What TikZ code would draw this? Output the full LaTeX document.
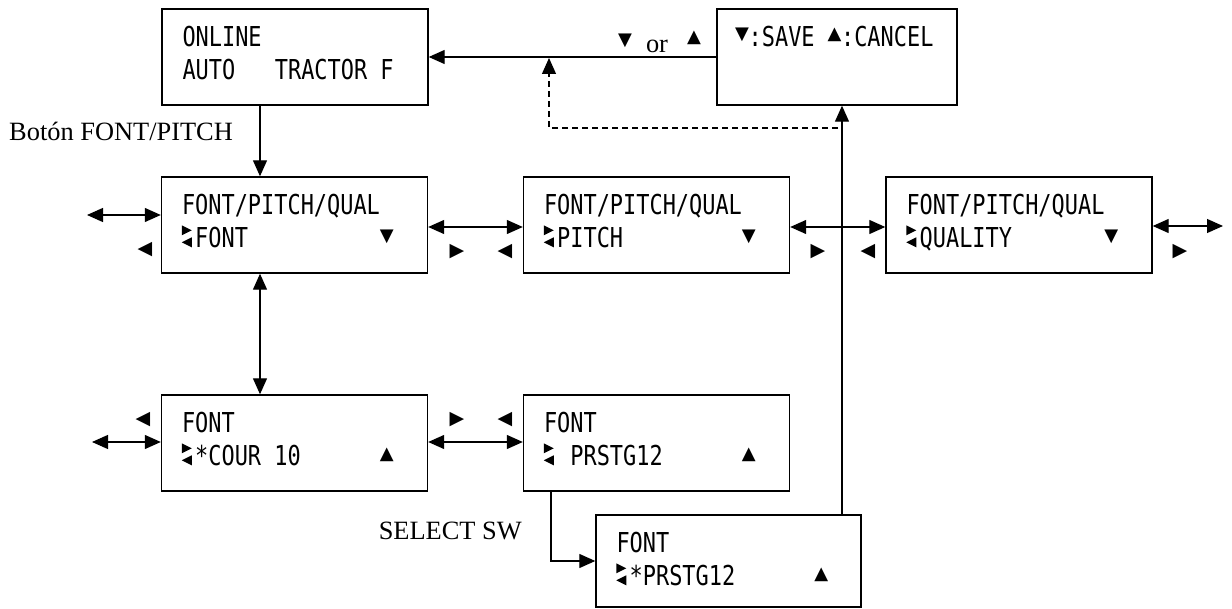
\documentclass[tikz,border=0pt]{standalone}
\usepackage{fontspec}
\setmainfont{Liberation Serif}
\newfontfamily\lcd[FakeStretch=0.8]{DejaVu Sans Mono}
\newfontfamily\sym{DejaVu Sans}
\usetikzlibrary{arrows.meta}
\newlength\cw \setlength\cw{13.2pt}
\newcommand\keysym[1]{\makebox[\cw]{\raisebox{7pt}{\sym\fontsize{18}{18}\selectfont #1}}}
\begin{document}
\begin{tikzpicture}[x=1pt,y=-1pt,
  box/.style={draw, line width=1.4pt, inner sep=0pt, minimum width=266pt, minimum height=96pt},
  lcdtxt/.style={anchor=base west, inner sep=0pt, font=\lcd\fontsize{27.4}{27.4}\selectfont},
  lbl/.style={inner sep=0pt, font=\fontsize{26.4}{26.4}\selectfont},
  key/.style={inner sep=0pt, font=\sym\fontsize{19}{19}\selectfont},
  inkey/.style={inner sep=0pt, font=\sym\fontsize{18}{18}\selectfont},
  conn/.style={line width=1.2pt},
  arr/.style={conn, -{Triangle[length=16pt,width=14pt]}},
  darr/.style={conn, {Triangle[length=16pt,width=14pt]}-{Triangle[length=16pt,width=14pt]}},
  cursor/.pic={
    \fill (0,-22) -- (0,-12) -- (10,-17) -- cycle;
    \fill (10,-10) -- (10,0) -- (0,-5) -- cycle;
  }
]
\useasboundingbox (0,0) rectangle (1232,609);

% boxes
\node[box] (A) at (295,57) {};
\node[box, minimum width=240pt] (B) at (837,57) {};
\node[box] (C) at (294.5,225) {};
\node[box] (D) at (656.5,225) {};
\node[box] (E) at (1019,225) {};
\node[box] (F) at (294.5,443) {};
\node[box] (G) at (656.5,443) {};
\node[box, minimum width=265pt, minimum height=92pt] (H) at (728.5,561) {};

% box texts
\node[lcdtxt] (A1) at ([xshift=21pt,yshift=-38pt]A.north west) {ONLINE};
\node[lcdtxt] (A2) at ([xshift=21pt,yshift=-71pt]A.north west) {AUTO\ \ \ TRACTOR F};
\node[lcdtxt] (B1) at ([xshift=19pt,yshift=-38pt]B.north west) {\keysym{▼}:SAVE \keysym{▲}:CANCEL};

\node[lcdtxt] (C1) at ([xshift=21pt,yshift=-38pt]C.north west) {FONT/PITCH/QUAL};
\node[lcdtxt] (C2) at ([xshift=21pt,yshift=-71pt]C.north west) {\hspace*{\cw}FONT};
\node[lcdtxt] (D1) at ([xshift=21pt,yshift=-38pt]D.north west) {FONT/PITCH/QUAL};
\node[lcdtxt] (D2) at ([xshift=21pt,yshift=-71pt]D.north west) {\hspace*{\cw}PITCH};
\node[lcdtxt] (E1) at ([xshift=21pt,yshift=-38pt]E.north west) {FONT/PITCH/QUAL};
\node[lcdtxt] (E2) at ([xshift=21pt,yshift=-71pt]E.north west) {\hspace*{\cw}QUALITY};
\node[lcdtxt] (F1) at ([xshift=21pt,yshift=-38pt]F.north west) {FONT};
\node[lcdtxt] (F2) at ([xshift=21pt,yshift=-71pt]F.north west) {\hspace*{\cw}*COUR 10};
\node[lcdtxt] (G1) at ([xshift=21pt,yshift=-38pt]G.north west) {FONT};
\node[lcdtxt] (G2) at ([xshift=21pt,yshift=-71pt]G.north west) {\hspace*{\cw}\ PRSTG12};
\node[lcdtxt] (H1) at ([xshift=21pt,yshift=-38pt]H.north west) {FONT};
\node[lcdtxt] (H2) at ([xshift=21pt,yshift=-71pt]H.north west) {\hspace*{\cw}*PRSTG12};

% cursors
\foreach \b in {C,D,E,F,G,H}{
  \pic at ([xshift=21pt,yshift=-71pt]\b.north west) {cursor};
}

% in-box keys
\node[inkey] (Ck) at ([xshift=226pt,yshift=-61pt]C.north west) {▼};
\node[inkey] (Dk) at ([xshift=226pt,yshift=-61pt]D.north west) {▼};
\node[inkey] (Ek) at ([xshift=226pt,yshift=-61pt]E.north west) {▼};
\node[inkey] (Fk) at ([xshift=226pt,yshift=-61pt]F.north west) {▲};
\node[inkey] (Gk) at ([xshift=226pt,yshift=-61pt]G.north west) {▲};
\node[inkey] (Hk) at ([xshift=226pt,yshift=-61pt]H.north west) {▲};

% outside keys
\node[key] (r1a) at (145,250) {◀};
\node[key] (r1b) at (457,252) {▶};
\node[key] (r1c) at (505,252) {◀};
\node[key] (r1d) at (818,252) {▶};
\node[key] (r1e) at (868,252) {◀};
\node[key] (r1f) at (1180,252) {▶};
\node[key] (r2a) at (143,420) {◀};
\node[key] (r2b) at (457,420) {▶};
\node[key] (r2c) at (505,420) {◀};

% labels
\node[lbl, anchor=base west] (bt) at (9,141) {Botón FONT/PITCH};
\node[lbl, anchor=base east] (ss) at (522,539) {SELECT SW};
\node[lbl, anchor=base] (or) at (657,53) {or};
\node[inkey] (ok1) at (625,41) {▼};
\node[inkey] (ok2) at (694,38) {▲};

% coordinates
\coordinate (vx) at (842,0);
\coordinate (ax) at (260,0);
\coordinate (dS) at (838,128);
\coordinate (dE) at (549,58);
\coordinate (cL) at (87,215);
\coordinate (eR) at (1223,226);
\coordinate (fL) at (92,442);
\coordinate (gx) at (551,561);

% connectors
\draw[arr] (B.west) -- (A.east);
\draw[arr, dash pattern=on 6pt off 4pt] (dS) -| (dE);
\draw[arr] (H.north -| vx) -- (B.south -| vx);
\draw[arr] (A.south -| ax) -- (C.north -| ax);
\draw[darr] (C.south -| ax) -- (F.north -| ax);
\draw[darr] ([yshift=-2pt]C.east) -- ([yshift=-2pt]D.west);
\draw[darr] ([yshift=-2pt]D.east) -- ([yshift=-2pt]E.west);
\draw[darr] (cL) -- (C.west |- cL);
\draw[darr] (E.east |- eR) -- (eR);
\draw[darr] (fL) -- (F.west |- fL);
\draw[darr] (F.east |- fL) -- (G.west |- fL);
\draw[arr] (G.south -| gx) |- (H.west |- gx);
\end{tikzpicture}
\end{document}
